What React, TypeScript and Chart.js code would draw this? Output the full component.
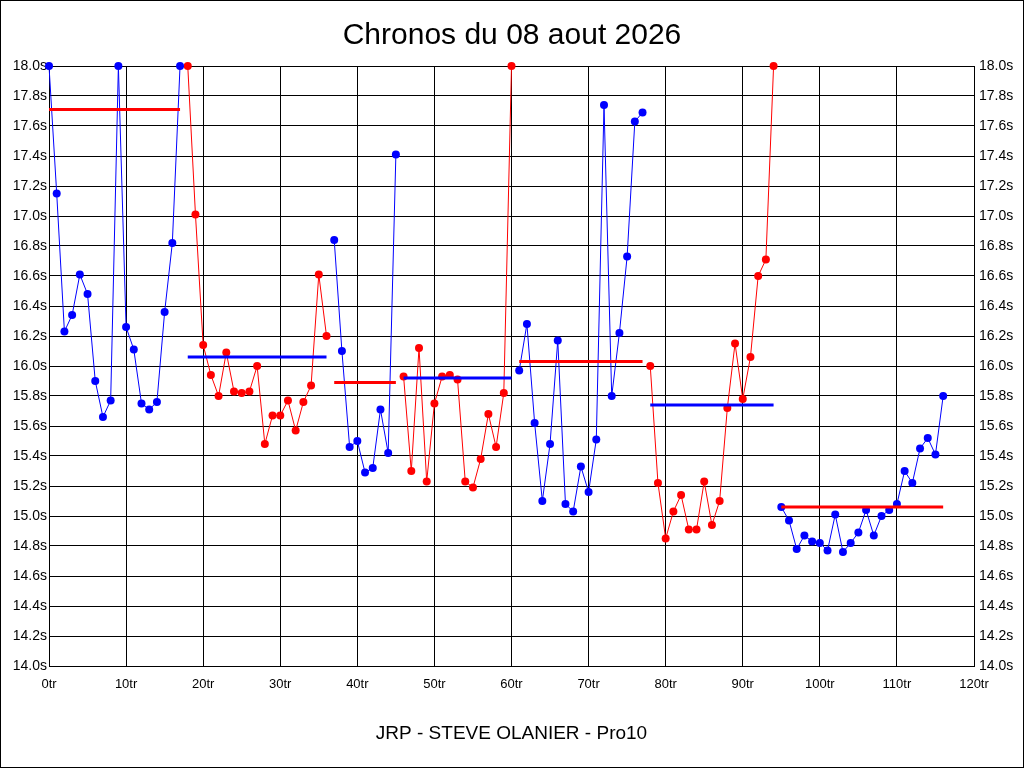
import React, { useEffect, useRef } from "react";
import { Chart, registerables } from "chart.js";

Chart.register(...registerables);

// lap times (s), one per lap from 0tr to 116tr
const lapTimes = [
	18.0, 17.15, 16.23, 16.34, 16.61, 16.48, 15.9, 15.66, 15.77, 18.0,
	16.26, 16.11, 15.75, 15.71, 15.76, 16.36, 16.82, 18.0,
	18.0, 17.01, 16.14, 15.94, 15.8, 16.09, 15.83, 15.82, 15.83, 16.0,
	15.48, 15.67, 15.67, 15.77, 15.57, 15.76, 15.87, 16.61, 16.2,
	16.84, 16.1, 15.46, 15.5, 15.29, 15.32, 15.71, 15.42, 17.41,
	15.93, 15.3, 16.12, 15.23, 15.75, 15.93, 15.94, 15.91, 15.23, 15.19,
	15.38, 15.68, 15.46, 15.82, 18.0,
	15.97, 16.28, 15.62, 15.1, 15.48, 16.17, 15.08, 15.03, 15.33, 15.16,
	15.51, 17.74, 15.8, 16.22, 16.73, 17.63, 17.69,
	16.0, 15.22, 14.85, 15.03, 15.14, 14.91, 14.91, 15.23, 14.94, 15.1,
	15.72, 16.15, 15.78, 16.06, 16.6, 16.71, 18.0,
	15.06, 14.97, 14.78, 14.87, 14.83, 14.82, 14.77, 15.01, 14.76, 14.82,
	14.89, 15.04, 14.87, 15.0, 15.04, 15.08, 15.3, 15.22, 15.45, 15.52,
	15.41, 15.8,
];

// relays: first and last lap of each, and their average
const stintStarts = [0, 18, 37, 46, 61, 78, 95];
const stintEnds = [17, 36, 45, 60, 77, 94, 116];
const stintAverages = [17.71, 16.06, 15.89, 15.92, 16.03, 15.74, 15.06];
const stintColors = ["#0000ff", "#ff0000", "#0000ff", "#ff0000", "#0000ff", "#ff0000", "#0000ff"];
const averageColors = ["#ff0000", "#0000ff", "#ff0000", "#0000ff", "#ff0000", "#0000ff", "#ff0000"];

const FONT = "'Liberation Sans', Arial, sans-serif";

const App: React.FC = () => {
	const chartRef = useRef<HTMLCanvasElement>(null);
	const chartInstanceRef = useRef<Chart>();

	useEffect(() => {
		if (!chartRef.current) return;
		if (chartInstanceRef.current) chartInstanceRef.current.destroy();

		const datasets: any[] = [];
		stintStarts.forEach((start, i) => {
			const end = stintEnds[i];
			datasets.push({
				data: [
					{ x: start, y: stintAverages[i] },
					{ x: end, y: stintAverages[i] },
				],
				borderColor: averageColors[i],
				borderWidth: 3,
				pointRadius: 0,
				fill: false,
			});
			const pts = [];
			for (let k = start; k <= end; k++) pts.push({ x: k, y: lapTimes[k] });
			datasets.push({
				data: pts,
				borderColor: stintColors[i],
				backgroundColor: stintColors[i],
				borderWidth: 1,
				pointRadius: 4,
				pointBorderWidth: 0,
				fill: false,
			});
		});

		const yTicks = {
			stepSize: 0.2,
			color: "#000",
			font: { family: FONT, size: 14 },
			callback: (v: any) => Number(v).toFixed(1) + "s",
		};

		chartInstanceRef.current = new Chart(chartRef.current, {
			type: "line",
			data: { datasets },
			options: {
				animation: false,
				responsive: true,
				maintainAspectRatio: false,
				clip: false as any,
				layout: { padding: 0 },
				plugins: {
					legend: { display: false },
					tooltip: { enabled: false },
					title: {
						display: true,
						text: "Chronos du 08 aout 2026",
						color: "#000",
						font: { family: FONT, size: 30, weight: "normal" },
						padding: { top: 17, bottom: 12 },
					},
				},
				scales: {
					x: {
						type: "linear",
						min: 0,
						max: 120,
						ticks: {
							stepSize: 10,
							padding: 11,
							color: "#000",
							maxRotation: 0,
							font: { family: FONT, size: 13 },
							callback: (v: any) => v + "tr",
						},
						grid: { color: "#000", lineWidth: 1, drawTicks: false },
						border: { color: "#000" },
						title: {
							display: true,
							text: "JRP - STEVE OLANIER - Pro10",
							color: "#000",
							font: { family: FONT, size: 19 },
							padding: { top: 0, bottom: 22 },
						},
						afterFit: (scale: any) => {
							scale.height = 101;
						},
					},
					y: {
						type: "linear",
						position: "left",
						min: 14,
						max: 18,
						ticks: { ...yTicks, padding: 2 },
						grid: { color: "#000", lineWidth: 1, drawTicks: false },
						border: { color: "#000" },
						afterFit: (scale: any) => {
							scale.width = 48;
						},
					},
					y2: {
						type: "linear",
						position: "right",
						min: 14,
						max: 18,
						ticks: { ...yTicks, padding: 5 },
						grid: { drawOnChartArea: false, drawTicks: false },
						border: { color: "#000" },
						afterFit: (scale: any) => {
							scale.width = 49;
						},
					},
				},
			} as any,
		});

		return () => {
			if (chartInstanceRef.current) {
				chartInstanceRef.current.destroy();
				chartInstanceRef.current = undefined;
			}
		};
	}, []);

	return (
		<div
			style={{
				position: "fixed",
				left: 0,
				top: 0,
				width: "1024px",
				height: "768px",
				boxSizing: "border-box",
				border: "1px solid #000",
				backgroundColor: "white",
			}}
		>
			<div style={{ position: "relative", width: "1022px", height: "766px" }}>
				<canvas ref={chartRef} />
			</div>
		</div>
	);
};

export default App;
